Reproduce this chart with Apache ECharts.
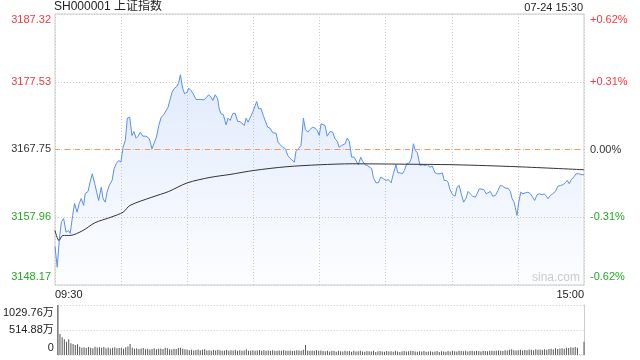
<!DOCTYPE html>
<html>
<head>
<meta charset="utf-8">
<script src="https://cdn.jsdelivr.net/npm/echarts@6/dist/echarts.min.js"></script>
<style>
  html, body { margin: 0; padding: 0; background: #fff; }
  #main { width: 640px; height: 360px; }
</style>
</head>
<body>
<div id="main"></div>
<script>
// 分时数据（分钟序号 0 = 09:30, 240 = 15:00）
const prevClose = 3167.75;
const priceTicks = [3148.17, 3157.96, 3167.75, 3177.53, 3187.32];
const pctTicks = ['-0.62%', '-0.31%', '0.00%', '+0.31%', '+0.62%'];
const timeLabels = ['09:30', '15:00'];
const volTicks = ['0', '514.88万', '1029.76万'];

const priceTimes = [
  0, 1.0, 2.0, 2.9, 3.9, 5.0, 6.2, 6.9, 8.0, 8.9,
  10.0, 11.0, 11.9, 13.0, 13.7, 15.0, 15.9, 16.9, 18.0, 18.9,
  19.8, 21.0, 21.8, 22.8, 23.6, 24.6, 25.9, 26.8, 27.8, 28.9,
  29.9, 30.9, 31.9, 32.8, 33.9, 34.9, 35.8, 36.8, 37.7, 38.7,
  39.8, 41.3, 42.8, 44.0, 44.9, 46.0, 47.1, 48.2, 49.3, 50.0,
  51.3, 52.3, 53.1, 54.0, 55.4, 56.1, 56.9, 57.9, 58.8, 59.9,
  60.7, 61.7, 62.7, 64.0, 66.2, 67.7, 68.8, 69.7, 70.8, 71.6,
  72.7, 73.8, 74.5, 75.3, 76.4, 77.6, 78.5, 79.5, 80.6, 81.7,
  82.9, 83.9, 84.8, 85.9, 86.7, 87.6, 88.5, 89.7, 90.6, 91.5,
  92.4, 93.5, 94.5, 95.7, 96.5, 97.5, 98.8, 100.3, 101.2, 102.2,
  103.3, 104.5, 105.6, 106.6, 107.5, 108.6, 109.3, 110.4, 111.6, 112.7,
  113.6, 114.7, 115.7, 116.9, 118.0, 119.0, 119.9, 120.7, 121.5, 122.5,
  123.5, 124.8, 126.0, 127.0, 128.1, 128.9, 130.1, 131.6, 132.6, 133.5,
  134.6, 135.7, 136.6, 137.6, 138.7, 139.6, 140.7, 141.7, 142.6, 143.7,
  144.4, 145.6, 146.7, 147.8, 149.0, 150.2, 151.2, 152.5, 153.5, 154.7,
  155.5, 156.5, 157.6, 158.5, 159.6, 160.8, 161.7, 162.6, 163.5, 164.4,
  165.6, 166.8, 167.9, 168.9, 170.1, 171.2, 172.4, 173.5, 174.7, 175.7,
  176.6, 177.7, 178.4, 179.2, 180.4, 181.5, 182.4, 183.4, 184.3, 185.4,
  186.5, 187.4, 188.4, 189.5, 190.7, 191.5, 192.5, 193.4, 194.5, 195.6,
  196.5, 197.5, 198.6, 199.8, 201.0, 202.0, 203.1, 204.3, 205.5, 206.6,
  207.4, 208.3, 208.8, 209.6, 210.4, 211.3, 212.3, 213.4, 214.6, 215.7,
  216.7, 217.6, 218.7, 219.7, 221.0, 222.0, 222.9, 223.7, 224.7, 225.8,
  227.0, 228.2, 229.3, 230.4, 231.5, 232.4, 233.3, 234.3, 235.3, 236.4,
  237.6, 239.1, 240
];
const prices = [
  3153.74, 3150.75, 3154.89, 3157.25, 3157.78, 3155.80, 3156.05, 3155.62, 3158.22, 3159.95,
  3158.69, 3159.95, 3160.67, 3159.66, 3161.39, 3161.68, 3163.03, 3164.24, 3162.84, 3161.58,
  3160.38, 3162.30, 3160.63, 3160.14, 3161.58, 3162.55, 3163.27, 3164.96, 3165.68, 3166.16,
  3165.92, 3168.08, 3169.05, 3172.27, 3172.42, 3169.77, 3170.35, 3169.38, 3169.67, 3170.25,
  3169.67, 3169.67, 3169.30, 3167.85, 3168.08, 3169.53, 3171.22, 3172.42, 3172.76, 3172.56,
  3173.86, 3175.07, 3176.03, 3176.52, 3176.89, 3177.39, 3178.54, 3176.61, 3175.80, 3176.03,
  3176.61, 3176.27, 3175.80, 3174.97, 3174.97, 3174.93, 3175.31, 3175.65, 3175.31, 3174.83,
  3175.65, 3175.07, 3173.63, 3172.91, 3172.76, 3171.32, 3172.27, 3171.94, 3172.91, 3172.99,
  3171.79, 3171.79, 3171.61, 3171.22, 3172.27, 3171.69, 3171.94, 3173.14, 3173.38, 3174.68,
  3173.63, 3173.63, 3172.66, 3171.61, 3170.97, 3170.83, 3170.16, 3170.10, 3168.80, 3168.43,
  3168.08, 3167.85, 3166.88, 3166.49, 3166.31, 3165.92, 3167.46, 3167.85, 3168.33, 3172.27,
  3170.64, 3170.25, 3170.64, 3170.97, 3170.83, 3170.49, 3169.77, 3171.46, 3171.61, 3171.22,
  3169.67, 3170.35, 3170.25, 3169.30, 3168.91, 3168.08, 3168.33, 3168.57, 3169.38, 3168.91,
  3166.64, 3166.64, 3166.78, 3165.54, 3166.64, 3166.02, 3165.54, 3165.44, 3165.54, 3164.96,
  3163.75, 3162.94, 3162.94, 3163.75, 3163.52, 3163.27, 3163.42, 3162.94, 3164.24, 3165.54,
  3164.38, 3164.38, 3164.24, 3164.72, 3165.68, 3165.83, 3166.49, 3168.57, 3167.61, 3167.27,
  3165.44, 3165.54, 3165.44, 3165.54, 3165.19, 3165.34, 3164.38, 3164.24, 3164.24, 3164.38,
  3163.27, 3163.27, 3162.94, 3161.97, 3161.21, 3161.00, 3162.30, 3162.55, 3161.35, 3160.14,
  3160.71, 3161.68, 3161.35, 3161.00, 3160.86, 3161.35, 3162.07, 3161.83, 3161.97, 3161.35,
  3161.49, 3161.68, 3161.00, 3161.10, 3161.83, 3162.55, 3162.45, 3162.16, 3162.16, 3161.68,
  3160.63, 3160.14, 3159.41, 3158.22, 3160.14, 3161.58, 3161.35, 3161.49, 3161.58, 3161.35,
  3160.86, 3160.38, 3161.21, 3161.35, 3161.21, 3161.35, 3161.00, 3160.63, 3161.10, 3161.35,
  3161.68, 3162.45, 3162.55, 3162.65, 3162.94, 3163.27, 3162.80, 3163.42, 3163.75, 3164.24,
  3164.24, 3164.10, 3164.10
];

// 均价线
const avgTimes = [0, 1.8, 3.6, 6.8, 12.7, 18.1, 25.4, 30.9, 34.0, 44.0, 51.6, 59.9, 70.3, 79.4, 90.3, 104.8, 120.2, 134.8, 156.5, 181.5, 210.1, 240];
const avgPrices = [3156.05, 3154.60, 3155.33, 3155.33, 3156.05, 3157.16, 3157.97, 3158.69, 3159.66, 3160.86, 3161.68, 3162.91, 3163.71, 3164.14, 3164.72, 3165.25, 3165.54, 3165.68, 3165.63, 3165.54, 3165.25, 3164.82];

// 成交量（万），每分钟一根
const volumes = [
  1029.76, 432, 364, 323, 275, 323, 240, 227, 206, 220,
  172, 150, 160, 145, 165, 150, 140, 170, 155, 160,
  150, 165, 140, 155, 135, 150, 160, 140, 145, 150,
  130, 160, 175, 225, 150, 130, 140, 125, 135, 145,
  120, 130, 115, 125, 140, 120, 130, 135, 125, 150,
  140, 120, 115, 130, 125, 145, 150, 130, 120, 115,
  100, 110, 95, 105, 115, 100, 110, 120, 95, 100,
  90, 105, 95, 110, 100, 85, 95, 105, 90, 100,
  95, 110, 85, 100, 90, 95, 120, 90, 85, 100,
  90, 95, 105, 85, 100, 90, 95, 80, 100, 90,
  85, 95, 90, 100, 85, 90, 95, 80, 90, 100,
  95, 90, 110, 206, 95, 85, 90, 80, 100, 90,
  95, 80, 75, 90, 70, 85, 80, 65, 90, 75,
  70, 85, 75, 80, 65, 90, 70, 75, 85, 70,
  65, 80, 75, 70, 85, 60, 75, 80, 70, 65,
  80, 70, 75, 65, 85, 70, 60, 75, 80, 70,
  75, 90, 80, 70, 65, 75, 70, 80, 65, 70,
  75, 65, 70, 80, 60, 75, 70, 65, 80, 70,
  85, 75, 70, 90, 80, 75, 85, 70, 80, 90,
  75, 85, 80, 70, 90, 80, 75, 85, 90, 80,
  85, 95, 90, 80, 100, 95, 110, 120, 100, 95,
  100, 110, 95, 105, 100, 115, 110, 100, 120, 110,
  115, 105, 120, 110, 125, 130, 115, 140, 125, 135,
  140, 130, 150, 145, 160, 150, 165, 150, 8, 6,
  275
];

const UP = '#f23a3a', DOWN = '#22a822', FLAT = '#333';
const FONT = '"Liberation Sans", Arial, "Noto Sans CJK SC", sans-serif';

const chart = echarts.init(document.getElementById('main'));

function priceLabel(v) {
  const i = priceTicks.indexOf(v);
  if (i < 0) return '';
  const txt = v.toFixed(2);
  if (i === 0) return '{downBot|' + txt + '}';
  if (i === priceTicks.length - 1) return '{upTop|' + txt + '}';
  if (v > prevClose) return '{up|' + txt + '}';
  if (v < prevClose) return '{down|' + txt + '}';
  return '{flat|' + txt + '}';
}

function pctLabel(v) {
  const i = Math.round(v / 0.309) + 2;
  const txt = pctTicks[i];
  if (txt === undefined) return '';
  if (i === 0) return '{downBot|' + txt + '}';
  if (i === 4) return '{upTop|' + txt + '}';
  if (i > 2) return '{up|' + txt + '}';
  if (i < 2) return '{down|' + txt + '}';
  return '{flat|' + txt + '}';
}

const labelRich = {
  upTop: { color: UP, fontSize: 11, fontFamily: FONT, padding: [12, 0, 0, 0] },
  up: { color: UP, fontSize: 11, fontFamily: FONT },
  flat: { color: FLAT, fontSize: 11, fontFamily: FONT },
  down: { color: DOWN, fontSize: 11, fontFamily: FONT },
  downBot: { color: DOWN, fontSize: 11, fontFamily: FONT, padding: [0, 0, 16, 0] }
};

const option = {
  animation: false,
  backgroundColor: '#fff',
  textStyle: { fontFamily: FONT },
  title: [
    {
      text: 'SH000001 上证指数',
      left: 54, top: 1, padding: 0,
      textStyle: { fontSize: 12, fontWeight: 'normal', color: '#222', fontFamily: FONT }
    },
    {
      text: '07-24 15:30',
      right: 57, top: 2, padding: 0,
      textStyle: { fontSize: 11, fontWeight: 'normal', color: '#222', fontFamily: FONT }
    }
  ],
  grid: [
    { left: 55, top: 14, width: 529, height: 271, show: true, borderColor: '#ccc', borderWidth: 1, backgroundColor: 'transparent' },
    { left: 55, top: 305, width: 529, height: 50 }
  ],
  xAxis: [
    {
      gridIndex: 0, type: 'value', min: 0, max: 240, interval: 30,
      axisLine: { show: false }, axisTick: { show: false },
      splitLine: { show: true, lineStyle: { color: '#ccc', type: [1, 2] } },
      axisLabel: {
        color: '#222', fontSize: 11, margin: 4,
        alignMinLabel: 'left', alignMaxLabel: 'right',
        formatter: v => v === 0 ? timeLabels[0] : (v === 240 ? timeLabels[1] : '')
      }
    },
    {
      gridIndex: 1, type: 'value', min: 0, max: 240,
      axisLine: { show: false }, axisTick: { show: false },
      splitLine: { show: false }, axisLabel: { show: false }
    }
  ],
  yAxis: [
    {
      gridIndex: 0, type: 'value', min: priceTicks[0], max: priceTicks[4],
      position: 'left',
      axisLine: { show: false }, axisTick: { show: false }, splitLine: { show: false },
      axisLabel: {
        customValues: priceTicks, margin: 4,
        formatter: priceLabel, rich: labelRich
      }
    },
    {
      gridIndex: 0, type: 'value', min: -0.618, max: 0.618, interval: 0.309,
      position: 'right',
      axisLine: { show: false }, axisTick: { show: false },
      splitLine: { show: true, lineStyle: { color: '#ccc', type: [1, 2] } },
      axisLabel: { margin: 6, formatter: pctLabel, rich: labelRich }
    },
    {
      gridIndex: 1, type: 'value', min: 0, max: 1029.76, interval: 514.88,
      position: 'left',
      axisLine: { show: true, lineStyle: { color: '#ccc' } }, axisTick: { show: false },
      splitLine: { show: true, lineStyle: { color: '#ccc', type: [1, 2] } },
      axisLabel: {
        margin: 4,
        formatter: v => {
          if (v === 0) return '{bot|' + volTicks[0] + '}';
          if (v > 1000) return '{top|' + volTicks[2] + '}';
          return '{mid|' + volTicks[1] + '}';
        },
        rich: {
          top: { color: '#222', fontSize: 11, fontFamily: FONT, padding: [16, 0, 0, 0] },
          mid: { color: '#222', fontSize: 11, fontFamily: FONT },
          bot: { color: '#222', fontSize: 11, fontFamily: FONT, padding: [0, 0, 14, 0] }
        }
      }
    },
    {
      gridIndex: 1, type: 'value', min: 0, max: 1029.76,
      position: 'right',
      axisLine: { show: true, lineStyle: { color: '#ccc' } },
      axisTick: { show: false }, splitLine: { show: false }, axisLabel: { show: false }
    }
  ],
  graphic: [
    {
      type: 'text', left: 532, top: 272, silent: true,
      style: { text: 'sina.com', fill: '#ccc', font: '12px ' + FONT }
    }
  ],
  series: [
    {
      name: '价格',
      type: 'line',
      xAxisIndex: 0, yAxisIndex: 0,
      showSymbol: false,
      data: priceTimes.map((t, i) => [t, prices[i]]),
      lineStyle: { color: '#5a8ff0', width: 1 },
      areaStyle: {
        origin: 'start',
        color: new echarts.graphic.LinearGradient(0, 0, 0, 1, [
          { offset: 0, color: 'rgba(90,143,240,0.26)' },
          { offset: 1, color: 'rgba(90,143,240,0.02)' }
        ])
      },
      markLine: {
        silent: true, symbol: 'none', label: { show: false },
        lineStyle: { color: '#f39a55', type: [5, 5], width: 1, opacity: 1 },
        data: [{ yAxis: prevClose }],
        z: 10
      },
      z: 3
    },
    {
      name: '均价',
      type: 'line',
      xAxisIndex: 0, yAxisIndex: 0,
      showSymbol: false,
      smooth: 0.3,
      data: avgTimes.map((t, i) => [t, avgPrices[i]]),
      lineStyle: { color: '#333', width: 1 },
      z: 4
    },
    {
      name: '成交量',
      type: 'bar',
      xAxisIndex: 1, yAxisIndex: 2,
      barWidth: 1,
      data: volumes.map((v, i) => [i, v]),
      itemStyle: { color: '#555' }
    }
  ]
};

chart.setOption(option);
</script>
</body>
</html>
